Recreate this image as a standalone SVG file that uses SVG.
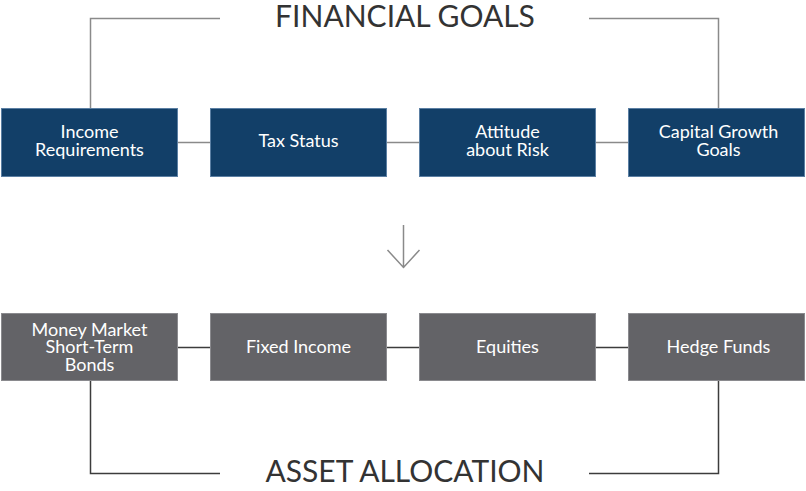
<svg xmlns="http://www.w3.org/2000/svg" width="806" height="491" viewBox="0 0 806 491">
<style>
.top{fill:#123f68;stroke:#5b7fa3;stroke-width:1}
.bot{fill:#636367;stroke:#8a8a8e;stroke-width:1}
.lbl{font-family:Lato,"Open Sans",sans-serif;font-size:18px;fill:#ffffff;text-anchor:middle}
.title{font-family:Lato,"Open Sans",sans-serif;font-size:30px;fill:#333333;text-anchor:middle}
.cg{fill:none;stroke:#8a8a8a;stroke-width:1.5}
.cd{fill:none;stroke:#3c3c3c;stroke-width:1.5}
</style>
<rect width="806" height="491" fill="#ffffff"/>
<g id="connectors">
<path class="cg" d="M90.5,108 V18.5 H220"/>
<path class="cg" d="M589,18.5 H718.5 V108"/>
<path class="cg" d="M177,142.5 H210 M386,142.5 H419 M595,142.5 H628"/>
<path class="cd" d="M177,347.5 H210 M386,347.5 H419 M595,347.5 H628"/>
<path class="cd" d="M90.5,380 V473.5 H220"/>
<path class="cd" d="M589,473.5 H718.5 V380"/>
<path class="cg" d="M403.5,225 V268 M387.5,250 L403.5,267.5 L419.5,250" stroke="#666"/>
</g>
<g id="title-goals"><text class="title" x="405" y="27">FINANCIAL GOALS</text></g>
<g id="title-alloc"><text class="title" x="405" y="482">ASSET ALLOCATION</text></g>
<g id="n-income"><rect class="top" x="1.5" y="108.5" width="176" height="68"/><text class="lbl" x="89.5" y="138">Income</text><text class="lbl" x="89.5" y="156">Requirements</text></g>
<g id="n-tax"><rect class="top" x="210.5" y="108.5" width="176" height="68"/><text class="lbl" x="298.5" y="147">Tax Status</text></g>
<g id="n-risk"><rect class="top" x="419.5" y="108.5" width="176" height="68"/><text class="lbl" x="507.5" y="138">Attitude</text><text class="lbl" x="507.5" y="156">about Risk</text></g>
<g id="n-capital"><rect class="top" x="628.5" y="108.5" width="176" height="68"/><text class="lbl" x="718.5" y="138">Capital Growth</text><text class="lbl" x="718.5" y="156">Goals</text></g>
<g id="n-money"><rect class="bot" x="1.5" y="313.5" width="176" height="67"/><text class="lbl" x="89.5" y="336">Money Market</text><text class="lbl" x="89.5" y="353">Short-Term</text><text class="lbl" x="89.5" y="371">Bonds</text></g>
<g id="n-fixed"><rect class="bot" x="210.5" y="313.5" width="176" height="67"/><text class="lbl" x="298.5" y="353">Fixed Income</text></g>
<g id="n-equities"><rect class="bot" x="419.5" y="313.5" width="176" height="67"/><text class="lbl" x="507.5" y="353">Equities</text></g>
<g id="n-hedge"><rect class="bot" x="628.5" y="313.5" width="176" height="67"/><text class="lbl" x="718.5" y="353">Hedge Funds</text></g>
</svg>
